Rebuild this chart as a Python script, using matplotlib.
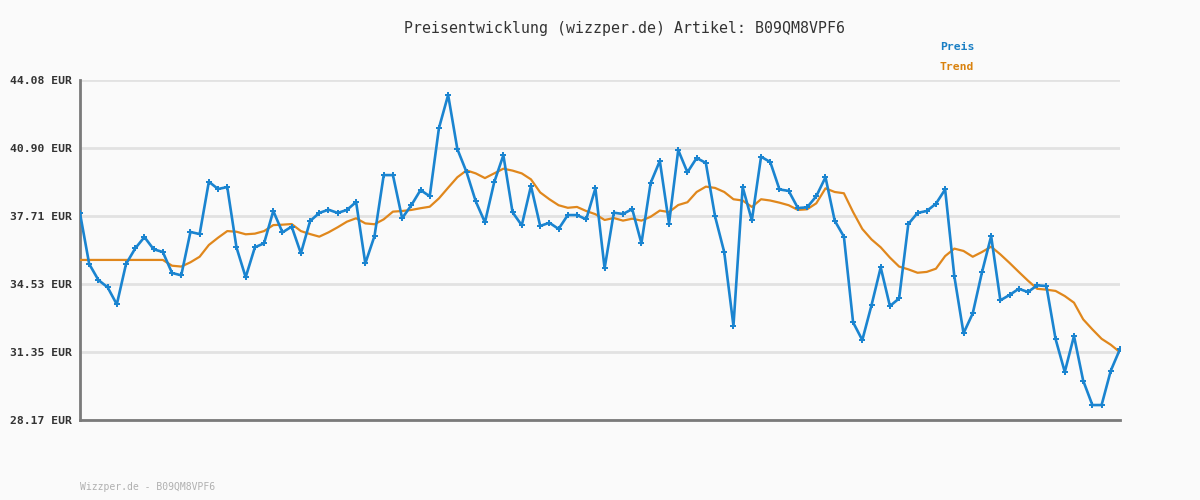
import matplotlib
matplotlib.use("Agg")
import matplotlib.pyplot as plt

title = "Preisentwicklung (wizzper.de) Artikel: B09QM8VPF6"
footer = "Wizzper.de - B09QM8VPF6"
tick_values = [28.17, 31.35, 34.53, 37.71, 40.90, 44.08]
tick_labels = ["28.17 EUR", "31.35 EUR", "34.53 EUR", "37.71 EUR", "40.90 EUR", "44.08 EUR"]

preis = [
    37.84, 35.47, 34.72, 34.38, 33.58, 35.47, 36.20, 36.73, 36.16, 36.03,
    35.05, 34.94, 36.97, 36.87, 39.32, 38.98, 39.07, 36.25, 34.85, 36.25,
    36.44, 37.95, 36.95, 37.22, 35.97, 37.48, 37.86, 38.01, 37.86, 38.00,
    38.37, 35.50, 36.78, 39.63, 39.63, 37.61, 38.22, 38.93, 38.64, 41.83,
    43.38, 40.85, 39.77, 38.40, 37.42, 39.29, 40.56, 37.89, 37.28, 39.12,
    37.25, 37.40, 37.11, 37.76, 37.76, 37.56, 39.01, 35.27, 37.87, 37.81,
    38.04, 36.44, 39.26, 40.29, 37.36, 40.80, 39.76, 40.43, 40.20, 37.70,
    36.02, 32.58, 39.07, 37.51, 40.49, 40.24, 38.96, 38.89, 38.09, 38.12,
    38.64, 39.53, 37.50, 36.75, 32.74, 31.91, 33.54, 35.31, 33.50, 33.86,
    37.34, 37.86, 37.95, 38.29, 38.96, 34.89, 32.23, 33.16, 35.08, 36.77,
    33.77, 34.02, 34.31, 34.16, 34.47, 34.44, 31.96, 30.42, 32.10, 30.01,
    28.87, 28.87, 30.48, 31.49,
]

trend = [
    35.66, 35.66, 35.66, 35.66, 35.66, 35.66, 35.66, 35.66, 35.66, 35.66,
    35.39, 35.35, 35.55, 35.81, 36.36, 36.70, 37.01, 36.98, 36.86, 36.89,
    37.01, 37.29, 37.31, 37.34, 37.01, 36.87, 36.75, 36.95, 37.19, 37.45,
    37.61, 37.37, 37.33, 37.56, 37.92, 37.95, 38.00, 38.08, 38.15, 38.54,
    39.04, 39.53, 39.85, 39.71, 39.49, 39.71, 39.93, 39.84, 39.71, 39.43,
    38.82, 38.50, 38.22, 38.10, 38.14, 37.95, 37.80, 37.53, 37.62, 37.50,
    37.59, 37.50, 37.68, 37.97, 37.90, 38.23, 38.36, 38.84, 39.09, 39.03,
    38.84, 38.50, 38.44, 38.14, 38.50, 38.44, 38.34, 38.22, 38.00, 38.03,
    38.31, 39.01, 38.84, 38.78, 37.90, 37.11, 36.62, 36.25, 35.77, 35.35,
    35.22, 35.06, 35.10, 35.25, 35.84, 36.19, 36.08, 35.81, 36.03, 36.28,
    35.92, 35.52, 35.10, 34.69, 34.31, 34.27, 34.21, 33.97, 33.66, 32.88,
    32.41, 31.97, 31.69, 31.34,
]

blue = "#1a84d0"
orange = "#e0871c"
bg = "#fafafa"

fig = plt.figure(figsize=(12, 5), dpi=100, facecolor=bg)
ax = fig.add_axes([80 / 1200, 80 / 500, 1040 / 1200, 340 / 500])
ax.set_facecolor(bg)

x = list(range(len(preis)))
ax.plot(x, trend, color=orange, lw=1.6, zorder=3)
ax.plot(x, preis, color=blue, lw=1.9, marker="P", markersize=4,
        markeredgewidth=0, zorder=4)

ax.set_xlim(0, len(preis) - 1)
ax.set_ylim(tick_values[0], tick_values[-1])
ax.set_yticks(tick_values)
ax.set_yticklabels(tick_labels, family="DejaVu Sans Mono", fontweight="bold",
                   fontsize=8.2, color="#333333")
ax.set_xticks([])
ax.tick_params(axis="y", length=0, pad=6)
ax.grid(axis="y", color="#e2e2e2", lw=2, zorder=0)
for s in ["top", "right"]:
    ax.spines[s].set_visible(False)
for s in ["left", "bottom"]:
    ax.spines[s].set_color("#7a7a7a")
    ax.spines[s].set_linewidth(2)

fig.text(0.52, 0.944, title, ha="center", va="center",
         family="DejaVu Sans Mono", fontsize=10.7, color="#333333")
fig.text(940 / 1200, 1 - 47 / 500, "Preis", ha="left", va="center",
         family="DejaVu Sans Mono", fontweight="bold", fontsize=8.2, color="#1a7fc4")
fig.text(940 / 1200, 1 - 67 / 500, "Trend", ha="left", va="center",
         family="DejaVu Sans Mono", fontweight="bold", fontsize=8.2, color="#d9820e")
fig.text(80 / 1200, 1 - 487 / 500, footer, ha="left", va="center",
         family="DejaVu Sans Mono", fontsize=7, color="#b0b0b0")

fig.savefig("out.png", dpi=100, facecolor=bg)
